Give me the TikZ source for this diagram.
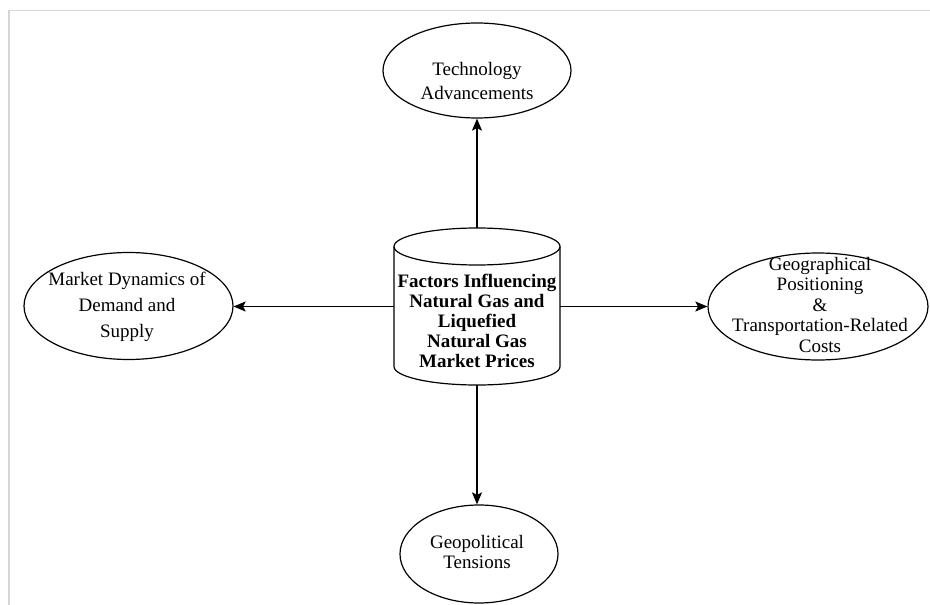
\documentclass[tikz,border=0pt]{standalone}
\usepackage{fontspec}
\setmainfont{Liberation Serif}
\usetikzlibrary{shapes.geometric,arrows.meta}
\newcommand{\lbl}[2]{\parbox[t]{240pt}{\centering\fontsize{19}{#1}\selectfont #2}}
\begin{document}
\begin{tikzpicture}[x=1pt,y=-1pt,
  oval/.style={ellipse, draw, line width=1.2pt, inner sep=0pt},
  txt/.style={anchor=base, inner sep=0pt},
  conn/.style={line width=1.3pt, -{Stealth[length=12pt,width=10pt,inset=2.5pt]}},
  cyl/.style={line width=1.2pt}]
\useasboundingbox (0,0) rectangle (930,605);
\draw[line width=1.8pt, color=black!16] (9,605) -- (9,10.5) -- (930,10.5);
% central cylinder
\node[minimum width=166pt, minimum height=157pt, inner sep=0pt] (c) at (477,306.5) {};
\draw[cyl] (477,246.5) ellipse (83 and 18.5);
\draw[cyl] (394,246.5) -- (394,366.5) arc[start angle=180, end angle=0, x radius=83, y radius=18.5] -- (560,246.5);
\node[txt, font=\bfseries] at (477,287) {\lbl{20}{Factors Influencing\\Natural Gas and\\Liquefied\\Natural Gas\\Market Prices}};
% outer ellipses
\node[oval, minimum width=188pt, minimum height=95pt] (t) at (477,70.5) {};
\node[oval, minimum width=209pt, minimum height=107pt] (l) at (128.5,306) {};
\node[oval, minimum width=220pt, minimum height=107pt] (r) at (818,306.5) {};
\node[oval, minimum width=158pt, minimum height=98pt] (b) at (479,554) {};
\node[txt] at (477,75) {\lbl{24}{Technology\\Advancements}};
\node[txt] at (127,285) {\lbl{26}{Market Dynamics of\\Demand and\\Supply}};
\node[txt] at (820,270) {\lbl{20.5}{Geographical\\Positioning\\\&\\Transportation-Related\\Costs}};
\node[txt] at (477,548) {\lbl{20}{Geopolitical\\Tensions}};
% connectors
\draw[conn] (c.north) -- (c.north |- t.south);
\draw[conn] (c.west) -- (c.west -| l.east);
\draw[conn] (c.east) -- (c.east -| r.west);
\draw[conn] (c.south) -- (c.south |- b.north);
\end{tikzpicture}
\end{document}
